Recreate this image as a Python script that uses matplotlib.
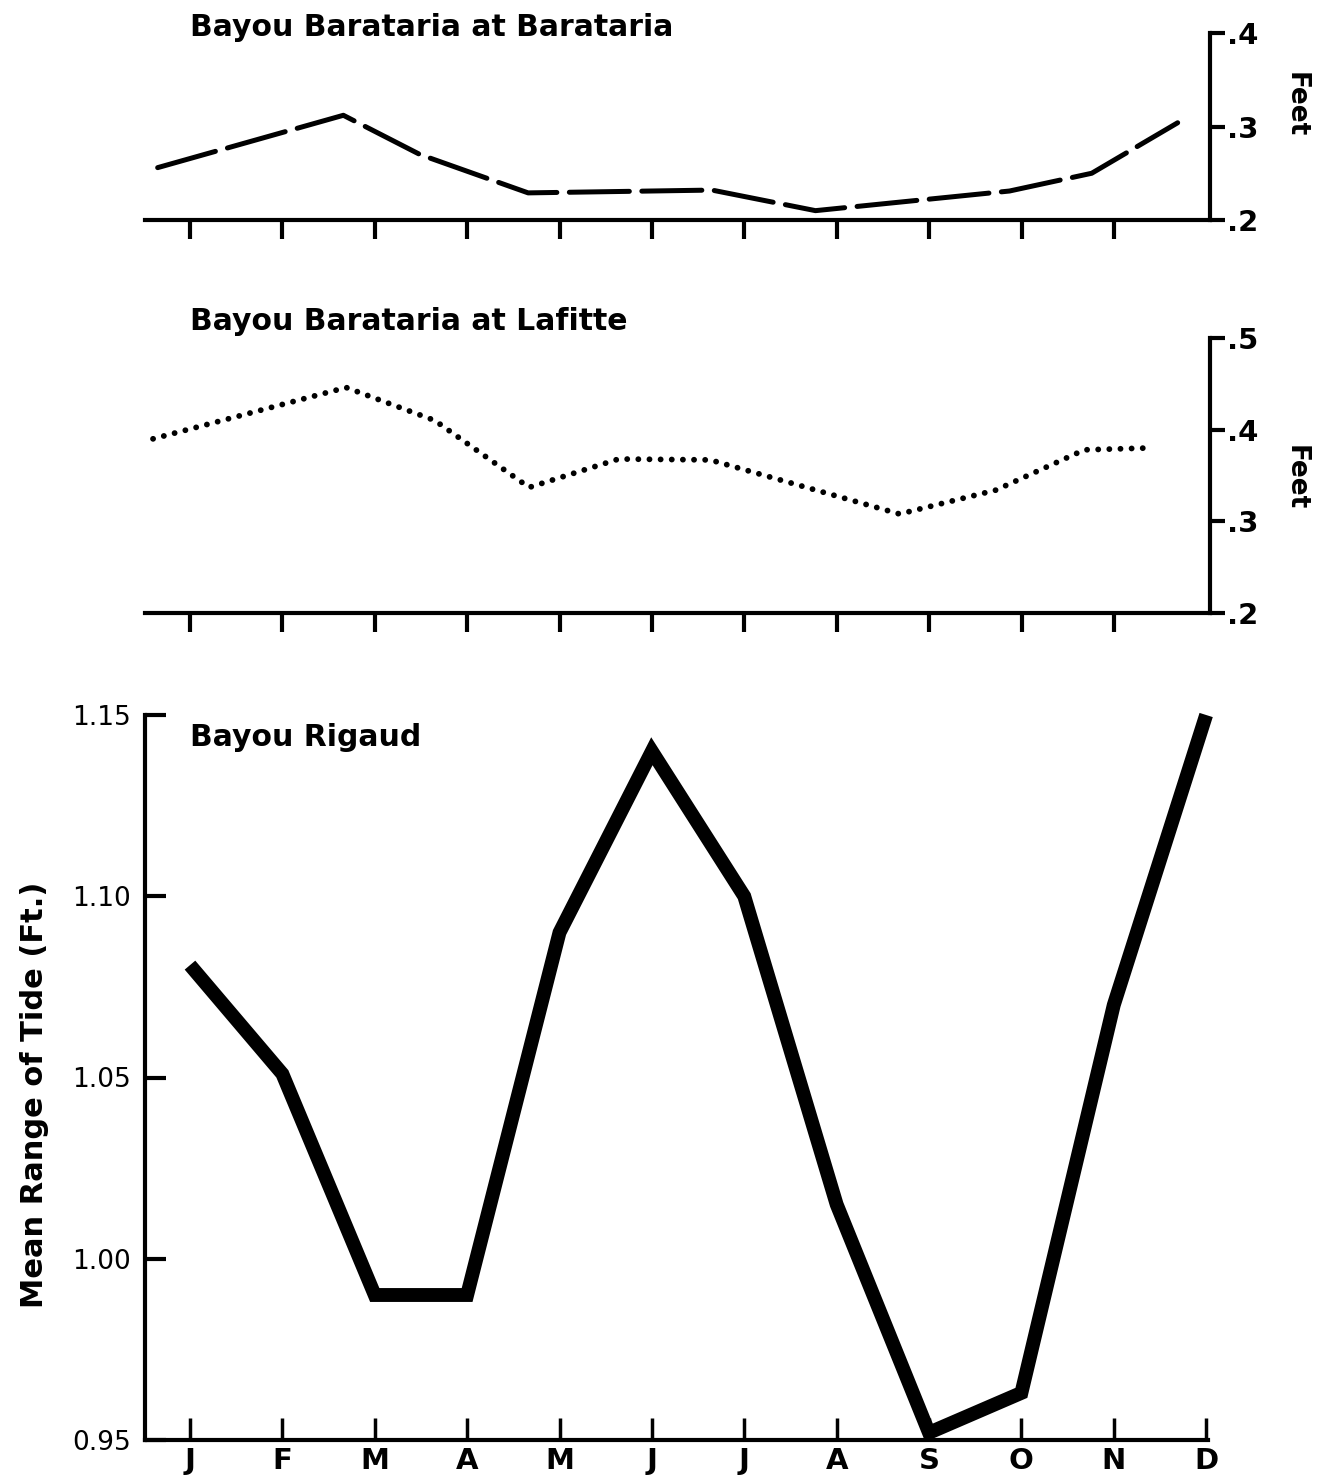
import matplotlib
matplotlib.use("Agg")
import matplotlib.pyplot as plt

# month labels for the bottom axis
months = ["J", "F", "M", "A", "M", "J", "J", "A", "S", "O", "N", "D"]

# Bayou Barataria at Barataria (dashed) - x in month units as drawn
bar_x = [-0.35, 1.66, 2.49, 3.66, 5.65, 6.77, 8.87, 9.76, 10.69]
bar_y = [0.256, 0.312, 0.270, 0.229, 0.232, 0.210, 0.231, 0.250, 0.304]

# Bayou Barataria at Lafitte (dotted)
laf_x = [-0.40, 1.69, 2.65, 3.67, 4.64, 5.63, 7.68, 8.72, 9.68, 10.37]
laf_y = [0.390, 0.446, 0.410, 0.337, 0.368, 0.367, 0.308, 0.334, 0.378, 0.380]

# Bayou Rigaud (thick solid), one value per month
rig_y = [1.081, 1.051, 0.990, 0.990, 1.090, 1.140, 1.100, 1.015, 0.952, 0.963, 1.070, 1.150]

W, H = 1323, 1478
fig = plt.figure(figsize=(W / 100, H / 100), dpi=100)
fig.patch.set_facecolor("white")

font = "DejaVu Sans"


def box(l, t, r, b):
    return [l / W, 1 - b / H, (r - l) / W, (b - t) / H]


def small_panel(rect, ylim, yticks, ylabels, title, ty, feet_y):
    ax = fig.add_axes(rect)
    ax.set_xlim(-0.487, 11.04)
    ax.set_ylim(*ylim)
    for s in ["left", "top"]:
        ax.spines[s].set_visible(False)
    for s in ["bottom", "right"]:
        ax.spines[s].set_linewidth(3)
    ax.set_xticks(range(11))
    ax.set_xticklabels([])
    ax.tick_params(axis="x", direction="out", length=14, width=3)
    ax.yaxis.tick_right()
    ax.set_yticks(yticks)
    ax.set_yticklabels(ylabels, fontsize=21, fontweight="bold", family=font)
    ax.tick_params(axis="y", direction="out", length=11, width=3, pad=1)
    fig.text(190 / W, 1 - ty / H, title, fontsize=21.5, fontweight="bold",
             family=font, ha="left", va="center")
    fig.text(1296 / W, 1 - feet_y / H, "Feet", rotation=-90, fontsize=19,
             fontweight="bold", family=font, ha="center", va="center")
    return ax


ax1 = small_panel(box(145, 33, 1210, 220), (0.2, 0.4), [0.2, 0.3, 0.4],
                  [".2", ".3", ".4"], "Bayou Barataria at Barataria", 27, 105)
ax1.plot(bar_x, bar_y, color="black", lw=3.6, ls=(0, (12, 2.5)),
         dash_capstyle="round", clip_on=False)

ax2 = small_panel(box(145, 338, 1210, 613), (0.2, 0.5), [0.2, 0.3, 0.4, 0.5],
                  [".2", ".3", ".4", ".5"], "Bayou Barataria at Lafitte", 322, 478)
ax2.plot(laf_x, laf_y, color="black", lw=4.2, ls=(0, (0.01, 1.9)),
         dash_capstyle="round", clip_on=False)

ax3 = fig.add_axes(box(145, 715, 1208, 1440))
ax3.set_xlim(-0.487, 11.02)
ax3.set_ylim(0.95, 1.15)
for s in ["right", "top"]:
    ax3.spines[s].set_visible(False)
for s in ["left", "bottom"]:
    ax3.spines[s].set_linewidth(3)
ax3.set_xticks(range(12))
ax3.set_xticklabels(months, fontsize=21, fontweight="bold", family=font)
ax3.tick_params(axis="x", direction="in", length=16, width=2.5, pad=5)
ax3.set_yticks([0.95, 1.00, 1.05, 1.10, 1.15])
ax3.set_yticklabels(["0.95", "1.00", "1.05", "1.10", "1.15"], fontsize=19,
                    family=font)
ax3.tick_params(axis="y", direction="in", length=15, width=3, pad=10)
ax3.plot(range(12), rig_y, color="black", lw=10, solid_joinstyle="miter",
         solid_capstyle="butt", clip_on=False)
ax3.text(190 / W, 1 - 737 / H, "Bayou Rigaud", transform=fig.transFigure,
         fontsize=21.5, fontweight="bold", family=font, ha="left", va="center")
fig.text(35 / W, 1 - 1095 / H, "Mean Range of Tide (Ft.)", rotation=90,
         fontsize=22, fontweight="bold", family=font, ha="center", va="center")

fig.savefig("out.png", dpi=100, facecolor="white")
